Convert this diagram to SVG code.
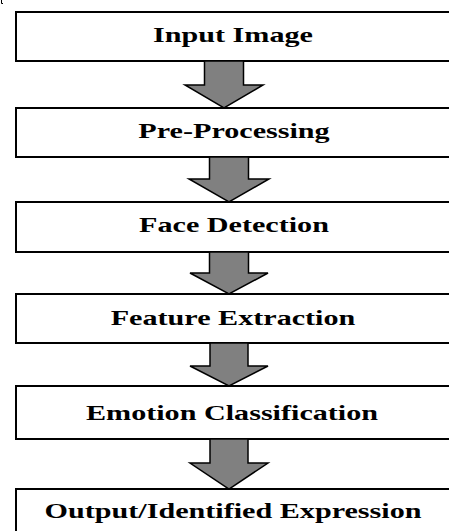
<svg xmlns="http://www.w3.org/2000/svg" width="449" height="531" viewBox="0 0 449 531">
  <style>
    .box { fill: #ffffff; stroke: #000000; stroke-width: 2; }
    .label { font-family: "Liberation Serif", "Times New Roman", serif; font-weight: bold; font-size: 22px; fill: #000000; text-anchor: middle; }
    .arrow { fill: #808080; stroke: #000000; stroke-width: 1.5; stroke-linejoin: miter; }
  </style>
  <rect width="449" height="531" fill="#ffffff"/>
  <path d="M1.5,0 V3.5 H3" fill="none" stroke="#000000" stroke-width="1"/>

  <g id="node-input">
    <rect class="box" x="16" y="12" width="440" height="49"/>
    <text class="label" transform="translate(233,42) scale(1.37,1)">Input Image</text>
  </g>
  <g id="node-preprocessing">
    <rect class="box" x="16" y="108" width="440" height="49"/>
    <text class="label" transform="translate(234,138) scale(1.37,1)">Pre-Processing</text>
  </g>
  <g id="node-face-detection">
    <rect class="box" x="16" y="202" width="440" height="50"/>
    <text class="label" transform="translate(234,232) scale(1.37,1)">Face Detection</text>
  </g>
  <g id="node-feature-extraction">
    <rect class="box" x="16" y="294" width="440" height="49"/>
    <text class="label" transform="translate(233,325) scale(1.37,1)">Feature Extraction</text>
  </g>
  <g id="node-emotion-classification">
    <rect class="box" x="16" y="386" width="440" height="53"/>
    <text class="label" transform="translate(232,420) scale(1.37,1)">Emotion Classification</text>
  </g>
  <g id="node-output">
    <rect class="box" x="16" y="489" width="440" height="60"/>
    <text class="label" transform="translate(233,518) scale(1.37,1)">Output/Identified Expression</text>
  </g>

  <g id="connectors">
    <polygon class="arrow" points="204.5,61 243.5,61 243.5,85 263,85 224,108 185,85 204.5,85"/>
    <polygon class="arrow" points="209.5,157 248.5,157 248.5,179 269,179 229,202 189,179 209.5,179"/>
    <polygon class="arrow" points="209.5,252 248.5,252 248.5,273 268,273 229,294 190,273 209.5,273"/>
    <polygon class="arrow" points="210,343 248,343 248,366 268,366 229,386 190,366 210,366"/>
    <polygon class="arrow" points="210,439 248,439 248,463 268,463 229,489 190,463 210,463"/>
  </g>
</svg>
